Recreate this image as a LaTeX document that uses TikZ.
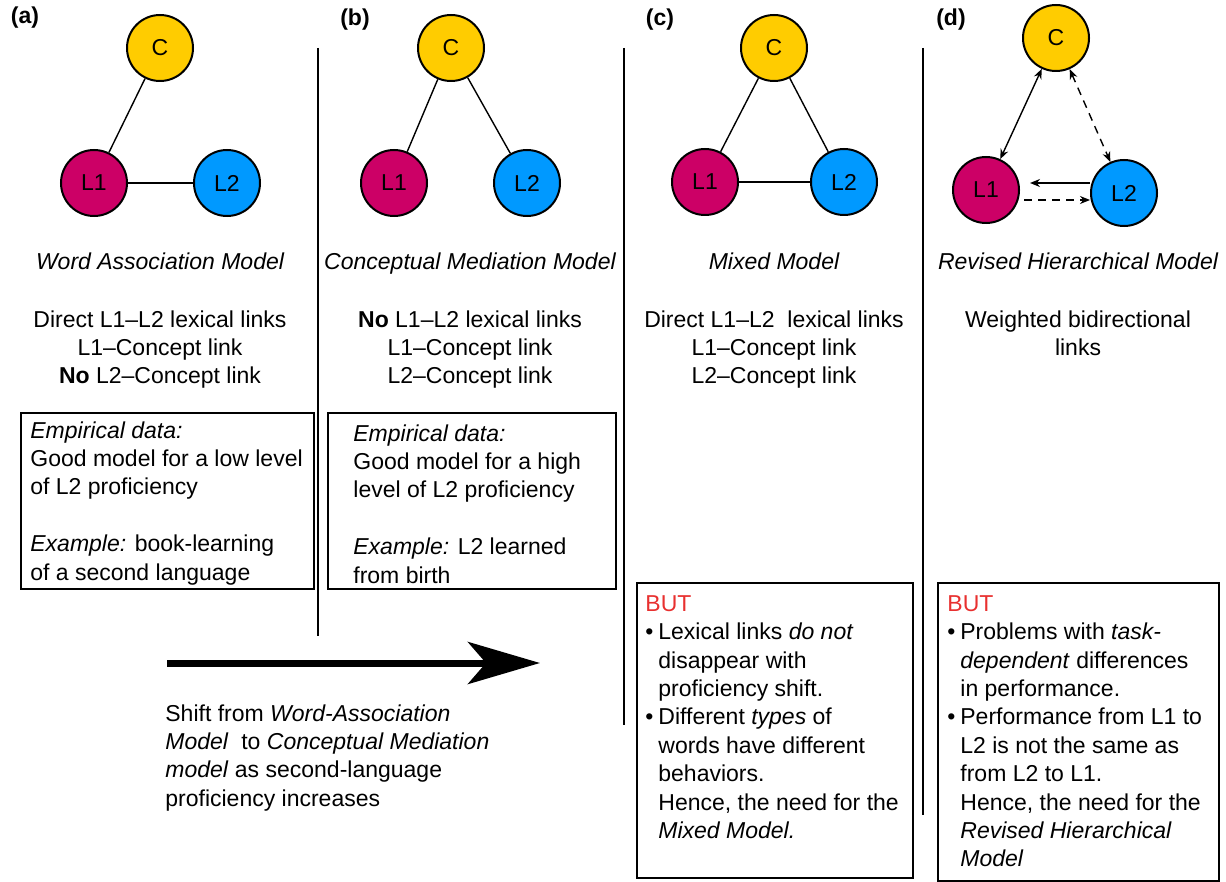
\documentclass[tikz,border=0pt]{standalone}
\usepackage{fontspec}
\setmainfont{Liberation Sans}
\usetikzlibrary{arrows.meta}
\definecolor{cyel}{HTML}{FFCC00}
\definecolor{cmag}{HTML}{CC0066}
\definecolor{cblu}{HTML}{0099FF}
\definecolor{cred}{HTML}{E8302F}
\newcommand{\bul}{\makebox[6.5pt][l]{\textbullet}}
\newcommand{\ind}{\hspace*{6.5pt}}

\begin{document}
\begin{tikzpicture}[x=0.5pt, y=-0.5pt,
		every node/.style = {font=\fontsize{11.5}{14.2}\selectfont, inner sep=0pt},
		main/.style = {draw, circle, line width=1pt, minimum size=33pt},
		link/.style = {line width=0.7pt},
		rarrow/.style = {-{Stealth[length=5pt, width=4pt]}},
		biarrow/.style = {{Stealth[length=5pt, width=4pt]}-{Stealth[length=5pt, width=4pt]}},
		heading/.style = {font=\fontsize{11.5}{14.2}\selectfont\bfseries},
		panelbox/.style = {draw, line width=0.75pt, anchor=north west},
		divider/.style = {line width=0.75pt}]
		\useasboundingbox (0,0) rectangle (1226,882);

		% panel headings
		\node[heading] (hda) at (25,18) {(a)};
		\node[heading] (hdb) at (355,20) {(b)};
		\node[heading] (hdc) at (660,20) {(c)};
		\node[heading] (hdd) at (951,20) {(d)};

		% dividers
		\coordinate (d1t) at (318,48); \coordinate (d1b) at (318,636);
		\coordinate (d2t) at (624,48); \coordinate (d2b) at (624,725);
		\coordinate (d3t) at (923,48); \coordinate (d3b) at (923,815);
		\draw[divider] (d1t) -- (d1b);
		\draw[divider] (d2t) -- (d2b);
		\draw[divider] (d3t) -- (d3b);

		% (a) word association
		\node[main, fill = cyel] (Ca) at (160,48) {C};
		\node[main, fill = cmag] (L1a) at (94,183) {L1};
		\node[main, fill = cblu] (L2a) at (227,183) {L2};
		\draw[link] (Ca) -- (L1a);
		\draw[link] (L1a) -- (L2a);

		% (b) conceptual mediation
		\node[main, fill = cyel] (Cb) at (451,48) {C};
		\node[main, fill = cmag] (L1b) at (394,183) {L1};
		\node[main, fill = cblu] (L2b) at (527,183) {L2};
		\draw[link] (Cb) -- (L1b);
		\draw[link] (Cb) -- (L2b);

		% (c) mixed
		\node[main, fill = cyel] (Cc) at (774,48) {C};
		\node[main, fill = cmag] (L1c) at (705,182) {L1};
		\node[main, fill = cblu] (L2c) at (844,182) {L2};
		\draw[link] (Cc) -- (L1c);
		\draw[link] (Cc) -- (L2c);
		\draw[link] (L1c) -- (L2c);

		% (d) revised hierarchical
		\node[main, fill = cyel] (Cd) at (1056,38) {C};
		\node[main, fill = cmag] (L1d) at (986,190) {L1};
		\node[main, fill = cblu] (L2d) at (1124,193) {L2};
		\draw[link, biarrow] (Cd) -- (L1d);
		\draw[link, biarrow, dash pattern=on 4pt off 3pt] (Cd) -- (L2d);
		\coordinate (upA) at ([yshift=5pt]L2d.west);
		\coordinate (upB) at ([xshift=5pt]L1d.east);
		\coordinate (dnA) at ([xshift=2pt, yshift=-5pt]L1d.east);
		\draw[link, rarrow] (upA) -- (upA -| upB);
		\draw[link, rarrow, dash pattern=on 4pt off 3pt] (dnA) -- (dnA -| L2d.west);

		% model names
		\node[anchor=base] (tta) at (160,270) {\itshape Word Association Model};
		\node[anchor=base] (ttb) at (470,270) {\itshape Conceptual Mediation Model};
		\node[anchor=base] (ttc) at (774,270) {\itshape Mixed Model};
		\node[anchor=base] (ttd) at (1078,270) {\itshape Revised Hierarchical Model};

		% links
		\node[anchor=north, align=center] (dsa) at (160,310) {Direct L1–L2 lexical links\\L1–Concept link\\\textbf{No} L2–Concept link};
		\node[anchor=north, align=center] (dsb) at (470,310) {\textbf{No} L1–L2 lexical links\\L1–Concept link\\L2–Concept link};
		\node[anchor=north, align=center] (dsc) at (774,310) {Direct L1–L2\ \ lexical links\\L1–Concept link\\L2–Concept link};
		\node[anchor=north, align=center] (dsd) at (1078,310) {Weighted bidirectional\\links};

		% empirical boxes
		\node[panelbox, minimum width=146.5pt, minimum height=88pt] (boxa) at (20,412) {};
		\node[panelbox, minimum width=144pt, minimum height=88pt] (boxb) at (327,412) {};
		\node[anchor=north west, align=left] (txa) at (30,421) {\textit{Empirical data:}\\Good model for a low level\\of L2 proficiency\\[14.2pt]\textit{Example:} book-learning\\of a second language};
		\node[anchor=north west, align=left] (txb) at (353,424) {\textit{Empirical data:}\\Good model for a high\\level of L2 proficiency\\[14.2pt]\textit{Example:} L2 learned\\from birth};

		% shift arrow
		\coordinate (shs) at (167,663);
		\coordinate (she) at (540,663);
		\draw[line width=3.5pt, -{Stealth[length=36pt, width=21pt, inset=9pt]}] (shs) -- (she);
		\node[anchor=north west, align=left] (shtxt) at (165,704) {Shift from \textit{Word-Association}\\\textit{Model}\ \ to \textit{Conceptual Mediation}\\\textit{model} as second-language\\proficiency increases};

		% BUT boxes
		\node[panelbox, minimum width=138pt, minimum height=147.5pt] (boxc) at (636,582) {};
		\node[panelbox, minimum width=140.5pt, minimum height=149pt] (boxd) at (937,582) {};
		\node[anchor=north west, align=left] (txc) at (645,595) {{\color{cred}BUT}\\\bul Lexical links \textit{do not}\\\ind disappear with\\\ind proficiency shift.\\\bul Different \textit{types} of\\\ind words have different\\\ind behaviors.\\\ind Hence, the need for the\\\ind \textit{Mixed Model.}};
		\node[anchor=north west, align=left] (txd) at (947,595) {{\color{cred}BUT}\\\bul Problems with \textit{task-}\\\ind \textit{dependent} differences\\\ind in performance.\\\bul Performance from L1 to\\\ind L2 is not the same as\\\ind from L2 to L1.\\\ind Hence, the need for the\\\ind \textit{Revised Hierarchical}\\\ind \textit{Model}};
	\end{tikzpicture}
\end{document}
